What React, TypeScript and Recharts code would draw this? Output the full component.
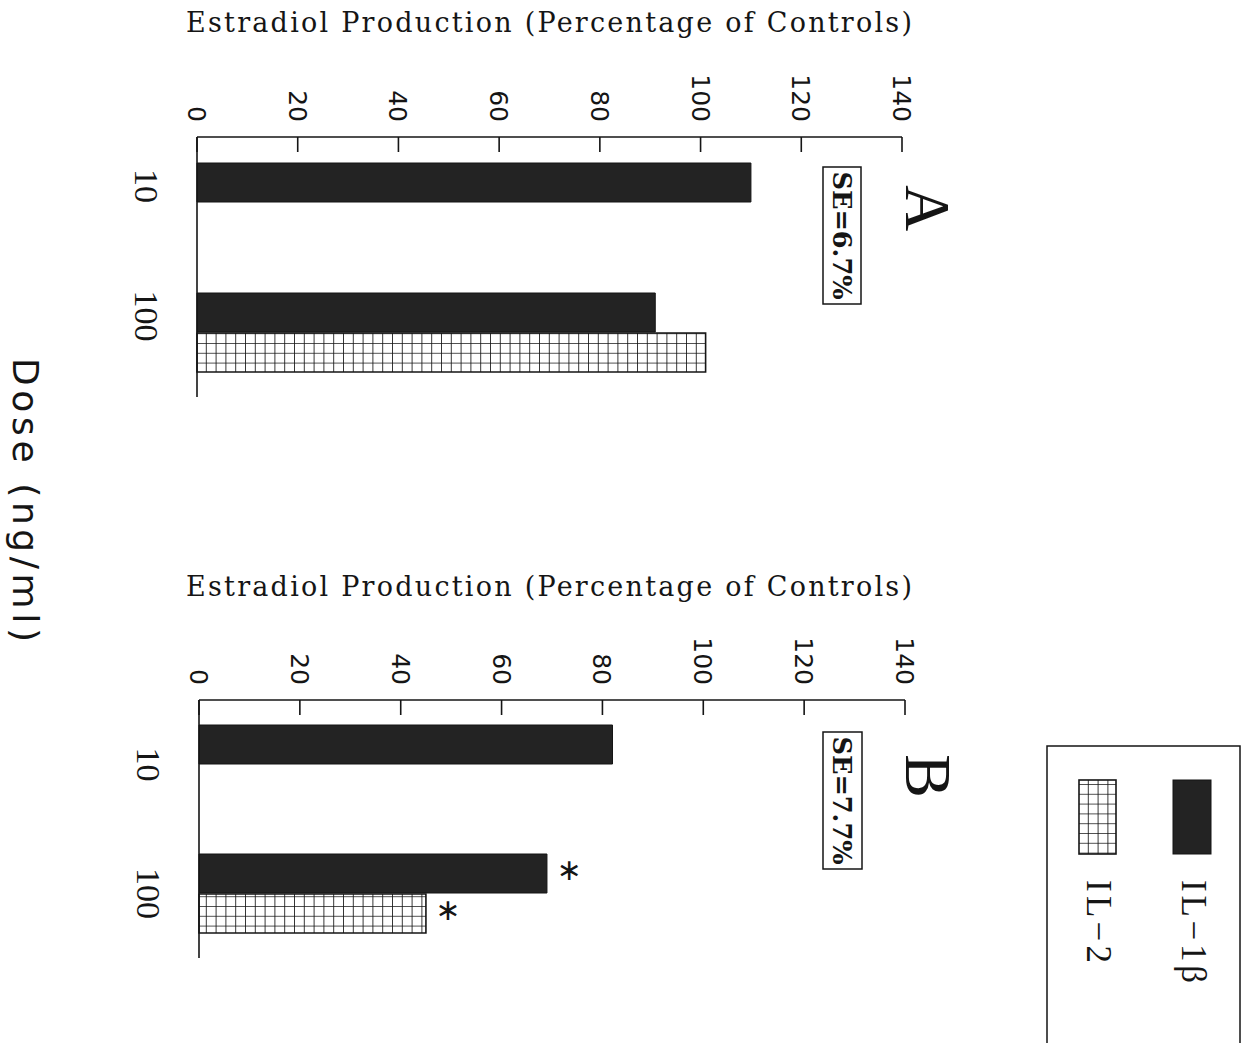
import React from 'react';
import { BarChart, Bar, XAxis, YAxis, LabelList } from 'recharts';

// ---- data ----
const doses = ['10', '100'];
const seriesNames = ['IL\u22121\u03B2', 'IL\u22122'];
const panelAIL1 = [110, 91];
const panelAIL2: (number | null)[] = [null, 101];
const panelBIL1 = [82, 69];
const panelBIL2: (number | null)[] = [null, 45];
const panelBSigIL1 = ['', '*'];
const panelBSigIL2 = ['', '*'];
const valueTicks = [0, 20, 40, 60, 80, 100, 120, 140];
const panelLetters = ['A', 'B'];
const seLabels = ['SE=6.7%', 'SE=7.7%'];
const valueTitle = 'Estradiol Production (Percentage of Controls)';
const doseTitle = 'Dose (ng/ml)';

const dataA = doses.map((d, i) => ({ dose: d, il1: panelAIL1[i], il2: panelAIL2[i], s1: '', s2: '' }));
const dataB = doses.map((d, i) => ({ dose: d, il1: panelBIL1[i], il2: panelBIL2[i], s1: panelBSigIL1[i], s2: panelBSigIL2[i] }));

const INK = '#151515';
const BARFILL = '#232323';

const ValueTick = (props: any) => {
  const { x, y, payload } = props;
  return (
    <g>
      <line x1={x} y1={y} x2={x} y2={y + 15} stroke={INK} strokeWidth={1.6} />
      <text
        transform={`translate(${x},${y - 15}) rotate(90)`}
        textAnchor="end"
        dy="0.36em"
        fontFamily="DejaVu Sans"
        fontSize={25}
        fill={INK}
      >
        {payload.value}
      </text>
    </g>
  );
};

const makeDoseTick = (shift: number) => (props: any) => {
  const { x, y, payload } = props;
  return (
    <text
      transform={`translate(${x - 62},${y + shift}) rotate(90)`}
      textAnchor="middle"
      fontFamily="Liberation Serif"
      fontSize={34}
      fill={INK}
    >
      {payload.value}
    </text>
  );
};

const Asterisk = (props: any) => {
  const { x, y, width, height, value } = props;
  if (!value) return null;
  return (
    <text
      x={x + width + 22}
      y={y + height / 2}
      dy={-4}
      textAnchor="middle"
      dominantBaseline="central"
      fontFamily="DejaVu Sans"
      fontSize={30}
      fill={INK}
    >
      {'\u2217'}
    </text>
  );
};

function Panel({ data, top, margin, shift, showSig }: any) {
  return (
    <div style={{ position: 'absolute', left: 0, top, width: 1000, height: 420 }}>
      <BarChart
        width={1000}
        height={420}
        data={data}
        layout="vertical"
        margin={margin}
        barSize={39}
        barGap={1}
      >
        <XAxis
          type="number"
          orientation="top"
          domain={[0, 140]}
          ticks={valueTicks}
          interval={0}
          height={30}
          tickSize={0}
          tickMargin={0}
          tickLine={false}
          axisLine={{ stroke: INK, strokeWidth: 1.6 }}
          tick={<ValueTick />}
        />
        <YAxis
          type="category"
          dataKey="dose"
          width={60}
          tickSize={0}
          tickMargin={0}
          tickLine={false}
          axisLine={{ stroke: INK, strokeWidth: 1.6 }}
          tick={makeDoseTick(shift)}
        />
        <Bar dataKey="il1" name={seriesNames[0]} fill={BARFILL} stroke={INK} strokeWidth={1} isAnimationActive={false}>
          {showSig && <LabelList dataKey="s1" content={<Asterisk />} />}
        </Bar>
        <Bar dataKey="il2" name={seriesNames[1]} fill="url(#gridHatch)" stroke={INK} strokeWidth={1.6} isAnimationActive={false}>
          {showSig && <LabelList dataKey="s2" content={<Asterisk />} />}
        </Bar>
      </BarChart>
    </div>
  );
}

export default function App() {
  return (
    <div style={{ position: 'absolute', left: 0, top: 0, width: 1246, height: 1043, background: '#fff', overflow: 'hidden' }}>
      <svg width={0} height={0} style={{ position: 'absolute' }}>
        <defs>
          <pattern id="gridHatch" patternUnits="userSpaceOnUse" width={9.8} height={9.8}>
            <rect x={0} y={0} width={9.8} height={9.8} fill="#fff" />
            <path d="M0,0 H9.8 M0,0 V9.8" stroke={INK} strokeWidth={1.7} fill="none" />
          </pattern>
        </defs>
      </svg>

      <Panel data={dataA} top={0} margin={{ top: 107, left: 137, right: 98, bottom: 23 }} shift={-16} showSig={false} />
      <Panel data={dataB} top={563} margin={{ top: 107, left: 139, right: 95, bottom: 25 }} shift={0} showSig={true} />

      <svg width={1246} height={1043} style={{ position: 'absolute', left: 0, top: 0, pointerEvents: 'none' }}>
        {/* value axis titles */}
        <text x={186} y={32} fontFamily="DejaVu Serif" fontSize={27} textLength={726} lengthAdjust="spacing" fill={INK}>
          {valueTitle}
        </text>
        <text x={186} y={596} fontFamily="DejaVu Serif" fontSize={27} textLength={726} lengthAdjust="spacing" fill={INK}>
          {valueTitle}
        </text>

        {/* SE boxes */}
        <rect x={823} y={167} width={38} height={137} fill="none" stroke={INK} strokeWidth={1.5} />
        <text transform="translate(833,235.5) rotate(90)" textAnchor="middle" fontFamily="DejaVu Serif" fontWeight="bold" fontSize={26} textLength={128} lengthAdjust="spacingAndGlyphs" fill={INK}>
          {seLabels[0]}
        </text>
        <rect x={823} y={732} width={39} height={137} fill="none" stroke={INK} strokeWidth={1.5} />
        <text transform="translate(833,800.5) rotate(90)" textAnchor="middle" fontFamily="DejaVu Serif" fontWeight="bold" fontSize={26} textLength={128} lengthAdjust="spacingAndGlyphs" fill={INK}>
          {seLabels[1]}
        </text>

        {/* panel letters */}
        <text transform="translate(906,208) rotate(90)" textAnchor="middle" fontFamily="Liberation Serif" fontSize={64} fill={INK}>
          {panelLetters[0]}
        </text>
        <text transform="translate(906,776) rotate(90)" textAnchor="middle" fontFamily="Liberation Serif" fontSize={66} fill={INK}>
          {panelLetters[1]}
        </text>

        {/* dose axis title */}
        <text transform="translate(13,358) rotate(90)" fontFamily="DejaVu Sans" fontSize={36} textLength={284} lengthAdjust="spacing" fill={INK}>
          {doseTitle}
        </text>

        {/* legend */}
        <rect x={1047} y={746} width={193} height={330} fill="none" stroke={INK} strokeWidth={1.5} />
        <rect x={1173} y={780} width={38} height={74} fill={BARFILL} stroke={INK} strokeWidth={1} />
        <rect x={1079} y={780} width={37} height={74} fill="url(#gridHatch)" stroke={INK} strokeWidth={1.6} />
        <text transform="translate(1182,880) rotate(90)" fontFamily="Liberation Serif" fontSize={35} textLength={103} lengthAdjust="spacing" fill={INK}>
          {seriesNames[0]}
        </text>
        <text transform="translate(1087,880) rotate(90)" fontFamily="Liberation Serif" fontSize={35} textLength={83} lengthAdjust="spacing" fill={INK}>
          {seriesNames[1]}
        </text>
      </svg>
    </div>
  );
}
